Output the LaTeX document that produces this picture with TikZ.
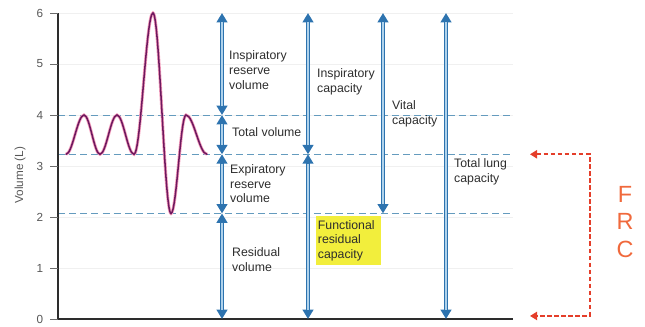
\documentclass[tikz,border=0pt]{standalone}
\usepackage{fontspec}
\setmainfont{Liberation Sans}
\usetikzlibrary{arrows.meta,positioning,calc}
\definecolor{volblue}{RGB}{45,115,175}
\definecolor{volpale}{RGB}{175,210,235}
\definecolor{levelgray}{RGB}{100,155,190}
\definecolor{wave}{RGB}{110,25,95}
\definecolor{wavepink}{RGB}{245,160,190}
\definecolor{frcred}{RGB}{228,62,42}
\definecolor{frcorange}{RGB}{240,105,60}
\definecolor{hilite}{RGB}{242,238,60}
\definecolor{textgray}{RGB}{45,45,45}

\begin{document}
\begin{tikzpicture}[
    x=0.03cm, y=1.53cm,
    lbl/.style={align=left, font=\fontsize{10.5}{12.5}\selectfont, text=textgray, inner sep=0pt},
    ticklbl/.style={font=\fontsize{10}{12}\selectfont, text=textgray!80},
    vol/.style={{Triangle[width=9pt,length=8pt]}-{Triangle[width=9pt,length=8pt]}, line width=3.4pt, draw=volblue,
        postaction={draw=volpale, line width=1pt, arrows=-, shorten >=8pt, shorten <=8pt}},
    level/.style={dashed, dash pattern=on 6pt off 3.5pt, draw=levelgray, line width=0.8pt},
    grid/.style={draw=black!6, line width=0.5pt},
    trace/.style={draw=wave, line width=1.3pt, line cap=round,
        preaction={draw=wavepink, line width=2.6pt}},
    frc/.style={{Triangle[width=7pt,length=6pt]}-{Triangle[width=7pt,length=6pt]}, dashed, dash pattern=on 4pt off 2pt, draw=frcred, line width=1.4pt}
]
\useasboundingbox (-58,-0.137) rectangle (587,6.255);

% Faint grid
\foreach \v in {1,...,6} {
    \draw[grid] (0,\v) -- (455,\v);
}

% Levels
\draw[level] (0,4) -- (455,4);
\draw[level] (0,3.23) -- (455,3.23);
\draw[level] (0,2.07) -- (455,2.07);

% Axes
\coordinate (origin) at (0,0);
\coordinate (y_top) at (0,6);
\coordinate (x_end) at (455,0);
\draw[line width=1.1pt, draw=textgray] (y_top) -- (origin) -- (x_end);
\foreach \v in {0,...,6} {
    \draw[draw=textgray!70, line width=0.6pt] (-8,\v) -- (0,\v);
    \node[ticklbl] (tick\v) at (-18,\v) {\v};
}
\node[ticklbl, rotate=90] (y_label) at (-38,2.82) {Volume (L)};

% Spirometer trace
\draw[trace]
    (8,3.23) .. controls (14.5,3.23) and (19.5,4) .. (26,4)
    .. controls (31.8,4) and (36.2,3.23) .. (42,3.23)
    .. controls (48.2,3.23) and (52.8,4) .. (59,4)
    .. controls (65.2,4) and (69.8,3.23) .. (76,3.23)
    .. controls (82.9,3.23) and (88.1,6) .. (95,6)
    .. controls (101.5,6) and (106.5,2.07) .. (113,2.07)
    .. controls (118.5,2.07) and (122.5,4) .. (128,4)
    .. controls (135.6,4) and (141.4,3.23) .. (149,3.23);

% Volumes
\coordinate (c1_top) at (164,6);
\coordinate (c1_ins) at (164,4);
\coordinate (c1_rest) at (164,3.23);
\coordinate (c1_res) at (164,2.07);
\coordinate (c1_bot) at (164,0);
\draw[vol] (c1_top) -- (c1_ins);
\draw[vol] (c1_ins) -- (c1_rest);
\draw[vol] (c1_rest) -- (c1_res);
\draw[vol] (c1_res) -- (c1_bot);

\node[lbl, anchor=west] (irv_text) at (171,4.88) {Inspiratory\\reserve\\volume};
\node[lbl, anchor=west] (tv_text) at (174,3.67) {Total volume};
\node[lbl, anchor=west] (erv_text) at (172,2.65) {Expiratory\\reserve\\volume};
\node[lbl, anchor=west] (rv_text) at (174,1.16) {Residual\\volume};

% Capacities
\coordinate (c2_top) at (250,6);
\coordinate (c2_rest) at (250,3.23);
\coordinate (c2_bot) at (250,0);
\draw[vol] (c2_top) -- (c2_rest);
\draw[vol] (c2_rest) -- (c2_bot);

\node[lbl, anchor=west] (ic_text) at (259,4.65) {Inspiratory\\capacity};
\node[lbl, anchor=north west, fill=hilite, inner xsep=1pt, inner ysep=2pt,
      minimum width=1.95cm, minimum height=1.47cm, text width=1.85cm] (frc_text) at (258,2.02)
      {Functional\\residual\\capacity};

\coordinate (c3_top) at (325,6);
\coordinate (c3_bot) at (325,2.07);
\draw[vol] (c3_top) -- (c3_bot);
\node[lbl, anchor=west] (vc_text) at (334,4.02) {Vital\\capacity};

\coordinate (c4_top) at (388,6);
\coordinate (c4_bot) at (388,0);
\draw[vol] (c4_top) -- (c4_bot);
\node[lbl, anchor=west] (tlc_text) at (396,2.88) {Total lung\\capacity};

% FRC bracket
\coordinate (frc_a) at (472,3.23);
\coordinate (frc_ne) at (532,3.23);
\coordinate (frc_se) at (532,0.06);
\coordinate (frc_b) at (472,0.06);
\draw[frc] (frc_a) -- (frc_ne) -- (frc_se) -- (frc_b);
\node[align=center, font=\fontsize{20}{23.5}\selectfont, text=frcorange] (frc_word) at (567,1.91) {F\\R\\C};

\end{tikzpicture}
\end{document}
